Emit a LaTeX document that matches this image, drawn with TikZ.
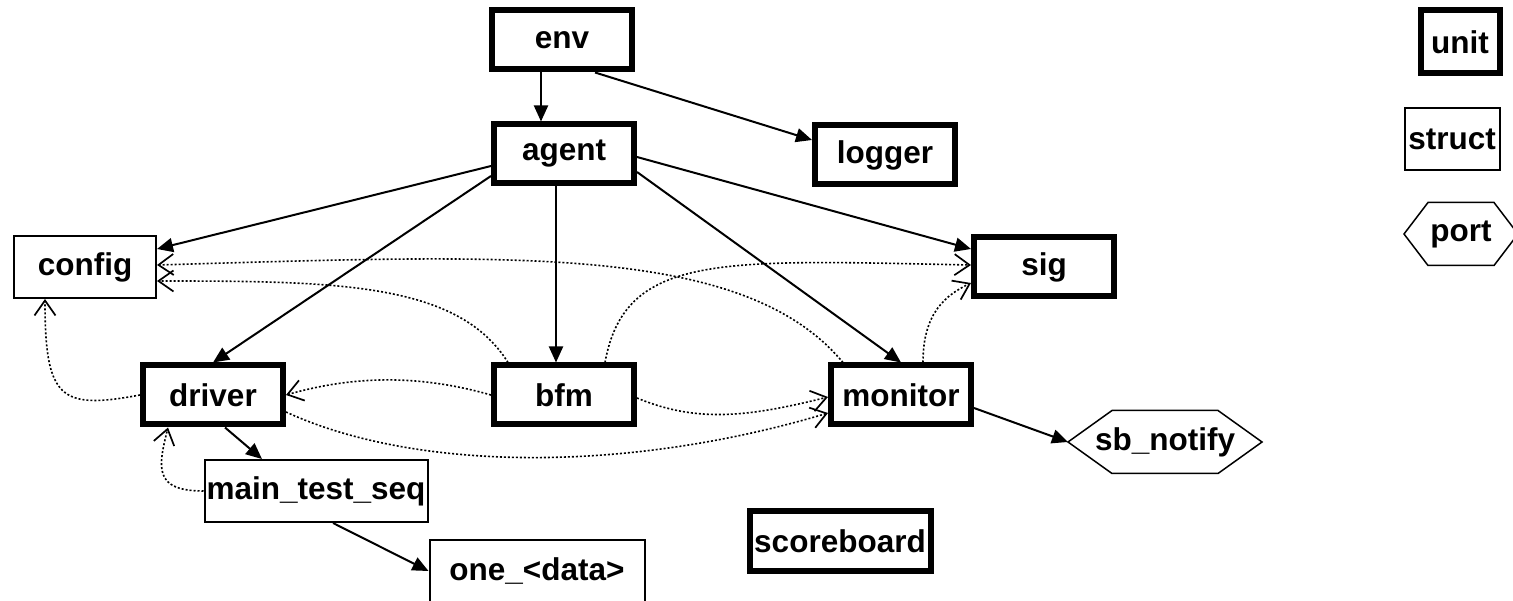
\documentclass[tikz,border=0pt]{standalone}
\usepackage{fontspec}
\setmainfont{Liberation Sans}
\usetikzlibrary{
  arrows.meta,
  positioning}

% hexagon round a port node, #2 = slant
\newcommand{\portshape}[2]{%
  \draw[line width=1.5pt] (#1.west) -- ([xshift=#2]#1.north west) -- ([xshift=-#2]#1.north east)
    -- (#1.east) -- ([xshift=-#2]#1.south east) -- ([xshift=#2]#1.south west) -- cycle;}

\begin{document}
\begin{tikzpicture}[
  x=1pt, y=1pt,
  >={Triangle[length=16pt,width=14pt]},
  every node/.style={font=\bfseries\fontsize{31.5}{38}\selectfont,fill=white,inner sep=0pt},
  unitnode/.style={draw,line width=6pt,minimum width=140pt,minimum height=59pt},
  structnode/.style={draw,line width=2pt,minimum width=142pt,minimum height=62pt},
  portnode/.style={fill=none,outer sep=0pt,minimum height=63pt},
  link/.style={->,line width=2pt},
  uses/.style={-{Straight Barb[length=15pt,width=21pt,line width=1.7pt]},line width=1.6pt,dash pattern=on 2pt off 2pt}
]%
  \useasboundingbox (0,0) rectangle (1513,600);

  % units
  \node[unitnode] (env)     at (562,560) {env};
  \node[unitnode] (agent)   at (564,446) {agent};
  \node[unitnode] (logger)  at (885,445) {logger};
  \node[unitnode] (sig)     at (1044,333) {sig};
  \node[unitnode] (driver)  at (213,205) {driver};
  \node[unitnode] (bfm)     at (564,205) {bfm};
  \node[unitnode] (monitor) at (901,205) {monitor};
  \node[unitnode,minimum width=181pt] (scoreboard) at (840,59) {scoreboard};

  % structs and ports
  \node[structnode] (config) at (85,333) {config};
  \node[structnode,minimum width=223pt] (seq) at (316,109) {main\_test\_seq};
  \node[structnode,minimum width=215pt] (onedata) at (537,29) {one\_<data>};
  \node[portnode,minimum width=194pt] (notify) at (1165,158) {sb\_notify};
  \portshape{notify}{44}

  % legend
  \node[unitnode,minimum width=79pt,minimum height=63pt] (lunit) at (1460,558) {unit};
  \node[structnode,minimum width=95pt] (lstruct) at (1452,461) {struct};
  \node[portnode,minimum width=114pt] (lport) at (1461,366) {port};
  \portshape{lport}{24}

  \draw[link] ([xshift=-21]env.south) -- ([xshift=-23]agent.north);
  \draw[link] ([xshift=33]env.south) -- ([yshift=15]logger.west);
  \draw[link] ([yshift=-12]agent.west) -- ([yshift=18]config.east);
  \draw[link] ([yshift=-22]agent.west) -- (driver.north);
  \draw[link] ([xshift=-8]agent.south) -- ([xshift=-8]bfm.north);
  \draw[link] ([yshift=-18]agent.east) -- (monitor.north);
  \draw[link] ([yshift=-3]agent.east) -- ([yshift=18]sig.west);
  \draw[link] ([xshift=12]driver.south) -- ([xshift=-54]seq.north);
  \draw[link] ([xshift=17]seq.south) -- (onedata.west);
  \draw[link] ([yshift=-13]monitor.east) -- (notify.west);

  % dotted uses
  \draw[uses] ([xshift=-58]monitor.north) .. controls +(-100,120) and +(350,10) .. ([yshift=2]config.east);
  \draw[uses] ([xshift=-56]bfm.north) .. controls +(-50,80) and +(180,0) .. ([yshift=-14]config.east);
  \draw[uses] ([xshift=41]bfm.north) .. controls +(20,110) and +(-250,5) .. ([yshift=2]sig.west);
  \draw[uses] ([xshift=22]monitor.north) .. controls +(0,50) and +(-25,-12) .. ([yshift=-16]sig.west);
  \draw[uses] (bfm.west) .. controls +(-70,20) and +(70,20) .. (driver.east);
  \draw[uses] ([yshift=-3]bfm.east) .. controls +(60,-25) and +(-80,-20) .. ([yshift=-2]monitor.west);
  \draw[uses] ([yshift=-17]driver.east) .. controls +(130,-60) and +(-200,-60) .. ([yshift=-18]monitor.west);
  \draw[uses] (driver.west) .. controls +(-80,-15) and +(0,-100) .. ([xshift=-40]config.south);
  \draw[uses] (seq.west) .. controls +(-50,0) and +(-10,-40) .. ([xshift=-45]driver.south);
\end{tikzpicture}
\end{document}
